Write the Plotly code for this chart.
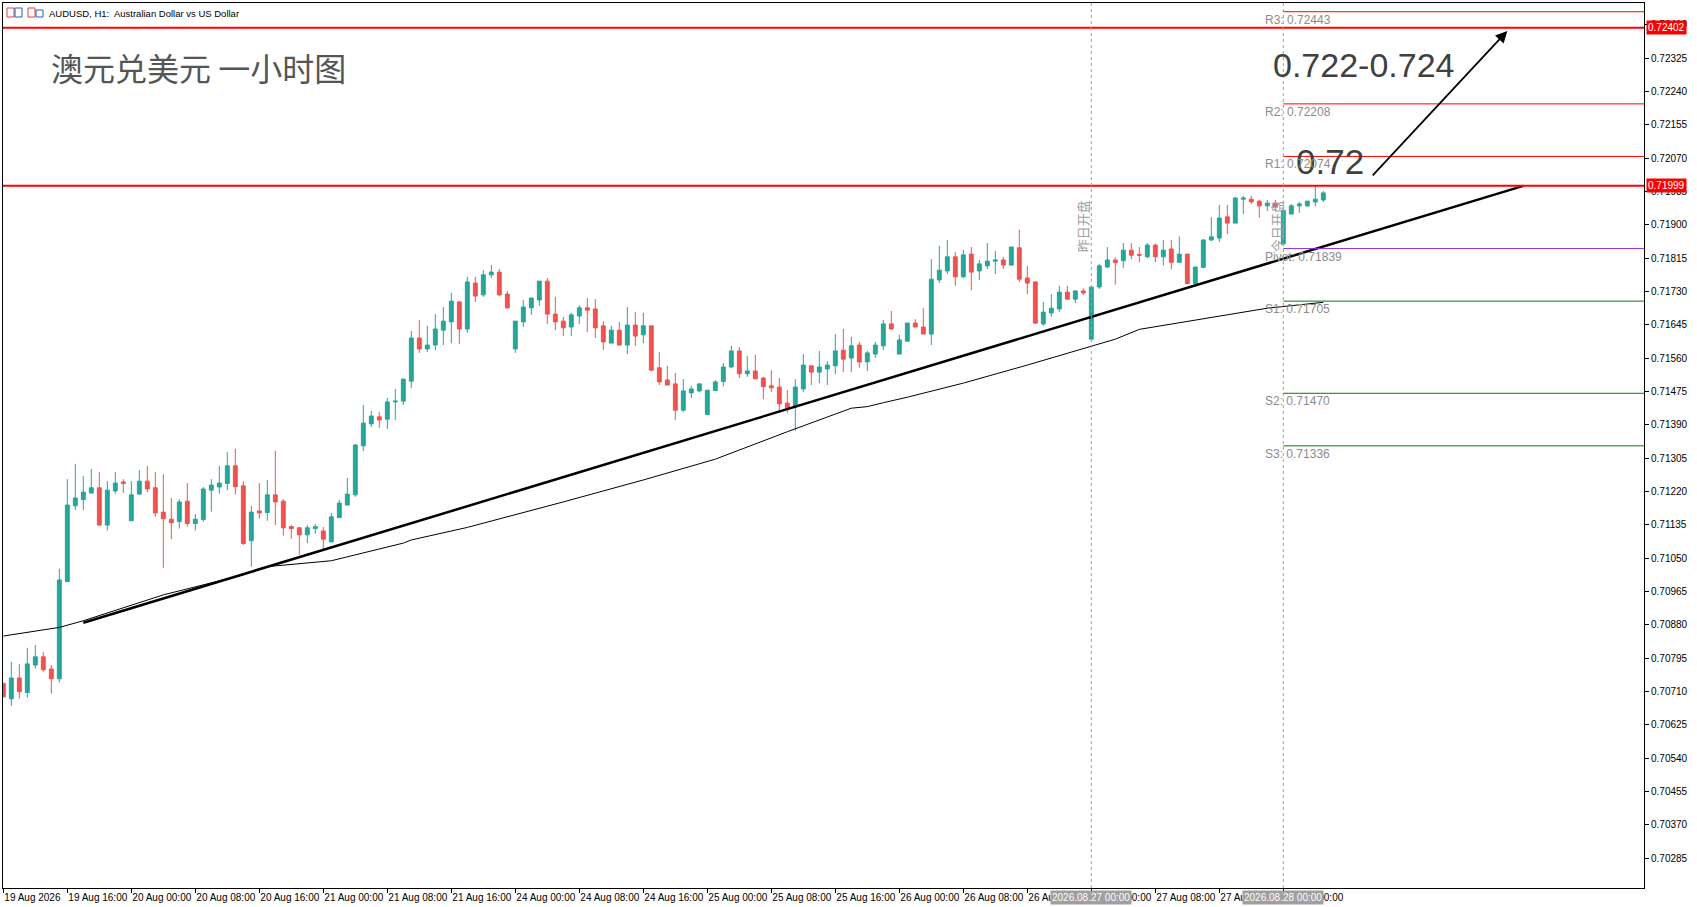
import plotly.graph_objects as go

# AUDUSD H1, bar 0 = 19 Aug 2026 08:00 (weekend hours skipped, one bar per hour)
opens = [0.70730, 0.70691, 0.70744, 0.70707, 0.70777, 0.70798, 0.70767, 0.70742, 0.70990, 0.71183,
         0.71199, 0.71216, 0.71229, 0.71134, 0.71221, 0.71244, 0.71145, 0.71213, 0.71246, 0.71229,
         0.71167, 0.71149, 0.71143, 0.71195, 0.71138, 0.71148, 0.71223, 0.71231, 0.71240, 0.71285,
         0.71234, 0.71094, 0.71170, 0.71166, 0.71211, 0.71195, 0.71130, 0.71127, 0.71109, 0.71125,
         0.71119, 0.71091, 0.71153, 0.71185, 0.71211, 0.71336, 0.71392, 0.71410, 0.71404, 0.71448,
         0.71450, 0.71501, 0.71611, 0.71583, 0.71593, 0.71631, 0.71652, 0.71703, 0.71634, 0.71751,
         0.71721, 0.71772, 0.71779, 0.71723, 0.71583, 0.71652, 0.71688, 0.71708, 0.71756, 0.71672,
         0.71654, 0.71639, 0.71667, 0.71688, 0.71685, 0.71642, 0.71598, 0.71631, 0.71593, 0.71644,
         0.71619, 0.71642, 0.71535, 0.71504, 0.71494, 0.71427, 0.71471, 0.71476, 0.71416, 0.71477,
         0.71500, 0.71537, 0.71578, 0.71520, 0.71527, 0.71509, 0.71489, 0.71486, 0.71445, 0.71435,
         0.71481, 0.71540, 0.71524, 0.71532, 0.71540, 0.71580, 0.71560, 0.71593, 0.71550, 0.71570,
         0.71591, 0.71647, 0.71570, 0.71603, 0.71649, 0.71639, 0.71621, 0.71759, 0.71782, 0.71818,
         0.71767, 0.71825, 0.71782, 0.71795, 0.71807, 0.71810, 0.71797, 0.71841, 0.71764, 0.71754,
         0.71647, 0.71675, 0.71685, 0.71728, 0.71710, 0.71731, 0.71608, 0.71741, 0.71792, 0.71810,
         0.71808, 0.71835, 0.71824, 0.71818, 0.71848, 0.71818, 0.71838, 0.71804, 0.71825, 0.71750,
         0.71791, 0.71861, 0.71866, 0.71920, 0.71904, 0.71965, 0.71965, 0.71960, 0.71948, 0.71955,
         0.71851, 0.71927, 0.71948, 0.71948, 0.71958, 0.71963]
highs = [0.70732, 0.70785, 0.70780, 0.70821, 0.70828, 0.70810, 0.70777, 0.71022, 0.71251, 0.71290,
         0.71259, 0.71277, 0.71269, 0.71246, 0.71269, 0.71251, 0.71246, 0.71274, 0.71285, 0.71269,
         0.71264, 0.71203, 0.71200, 0.71241, 0.71162, 0.71231, 0.71251, 0.71285, 0.71320, 0.71328,
         0.71246, 0.71183, 0.71241, 0.71249, 0.71323, 0.71200, 0.71134, 0.71129, 0.71134, 0.71137,
         0.71129, 0.71165, 0.71198, 0.71254, 0.71341, 0.71440, 0.71425, 0.71422, 0.71458, 0.71481,
         0.71508, 0.71629, 0.71657, 0.71642, 0.71672, 0.71690, 0.71726, 0.71705, 0.71767, 0.71767,
         0.71784, 0.71797, 0.71787, 0.71731, 0.71654, 0.71708, 0.71713, 0.71756, 0.71764, 0.71716,
         0.71665, 0.71675, 0.71695, 0.71713, 0.71710, 0.71654, 0.71642, 0.71652, 0.71690, 0.71677,
         0.71675, 0.71642, 0.71575, 0.71540, 0.71522, 0.71506, 0.71489, 0.71496, 0.71478, 0.71504,
         0.71547, 0.71591, 0.71588, 0.71565, 0.71568, 0.71512, 0.71529, 0.71509, 0.71478, 0.71506,
         0.71570, 0.71540, 0.71578, 0.71552, 0.71621, 0.71634, 0.71614, 0.71601, 0.71578, 0.71601,
         0.71657, 0.71680, 0.71619, 0.71649, 0.71659, 0.71687, 0.71812, 0.71846, 0.71861, 0.71830,
         0.71836, 0.71843, 0.71810, 0.71853, 0.71833, 0.71818, 0.71843, 0.71887, 0.71795, 0.71756,
         0.71703, 0.71723, 0.71744, 0.71744, 0.71733, 0.71738, 0.71741, 0.71800, 0.71843, 0.71817,
         0.71853, 0.71853, 0.71843, 0.71853, 0.71852, 0.71861, 0.71861, 0.71870, 0.71825, 0.71792,
         0.71863, 0.71919, 0.71950, 0.71950, 0.71971, 0.71973, 0.71973, 0.71963, 0.71963, 0.71963,
         0.71937, 0.71953, 0.71958, 0.71960, 0.71999, 0.71986]
lows = [0.70695, 0.70673, 0.70691, 0.70694, 0.70768, 0.70760, 0.70704, 0.70732, 0.70989, 0.71172,
        0.71172, 0.71214, 0.71132, 0.71120, 0.71214, 0.71216, 0.71145, 0.71211, 0.71218, 0.71155,
        0.71025, 0.71098, 0.71125, 0.71130, 0.71120, 0.71143, 0.71168, 0.71214, 0.71223, 0.71212,
        0.71083, 0.71028, 0.71150, 0.71145, 0.71134, 0.71107, 0.71099, 0.71058, 0.71088, 0.71112,
        0.71070, 0.71091, 0.71153, 0.71185, 0.71206, 0.71323, 0.71384, 0.71382, 0.71379, 0.71402,
        0.71440, 0.71484, 0.71573, 0.71575, 0.71580, 0.71593, 0.71598, 0.71596, 0.71624, 0.71703,
        0.71716, 0.71764, 0.71718, 0.71685, 0.71573, 0.71639, 0.71670, 0.71693, 0.71647, 0.71631,
        0.71616, 0.71616, 0.71647, 0.71626, 0.71611, 0.71580, 0.71598, 0.71591, 0.71570, 0.71591,
        0.71598, 0.71527, 0.71491, 0.71491, 0.71402, 0.71422, 0.71458, 0.71473, 0.71416, 0.71477,
        0.71487, 0.71535, 0.71509, 0.71512, 0.71506, 0.71455, 0.71473, 0.71422, 0.71420, 0.71374,
        0.71473, 0.71491, 0.71496, 0.71491, 0.71519, 0.71524, 0.71524, 0.71535, 0.71527, 0.71560,
        0.71580, 0.71631, 0.71570, 0.71603, 0.71639, 0.71621, 0.71593, 0.71751, 0.71774, 0.71744,
        0.71764, 0.71733, 0.71759, 0.71787, 0.71774, 0.71787, 0.71795, 0.71754, 0.71723, 0.71647,
        0.71642, 0.71665, 0.71677, 0.71710, 0.71700, 0.71721, 0.71608, 0.71736, 0.71789, 0.71747,
        0.71789, 0.71812, 0.71804, 0.71814, 0.71804, 0.71796, 0.71786, 0.71804, 0.71749, 0.71749,
        0.71791, 0.71858, 0.71856, 0.71876, 0.71904, 0.71927, 0.71953, 0.71918, 0.71935, 0.71935,
        0.71851, 0.71927, 0.71930, 0.71945, 0.71947, 0.71958]
closes = [0.70696, 0.70744, 0.70709, 0.70780, 0.70798, 0.70765, 0.70742, 0.70994, 0.71185, 0.71203,
          0.71218, 0.71229, 0.71134, 0.71223, 0.71241, 0.71240, 0.71211, 0.71246, 0.71226, 0.71165,
          0.71150, 0.71140, 0.71193, 0.71138, 0.71149, 0.71226, 0.71236, 0.71241, 0.71285, 0.71232,
          0.71087, 0.71167, 0.71165, 0.71211, 0.71193, 0.71127, 0.71125, 0.71109, 0.71127, 0.71130,
          0.71098, 0.71155, 0.71190, 0.71213, 0.71338, 0.71394, 0.71412, 0.71402, 0.71448, 0.71450,
          0.71506, 0.71611, 0.71583, 0.71593, 0.71634, 0.71654, 0.71705, 0.71634, 0.71754, 0.71718,
          0.71772, 0.71779, 0.71721, 0.71688, 0.71654, 0.71690, 0.71713, 0.71756, 0.71672, 0.71652,
          0.71637, 0.71670, 0.71688, 0.71682, 0.71637, 0.71601, 0.71631, 0.71593, 0.71644, 0.71616,
          0.71642, 0.71529, 0.71499, 0.71491, 0.71427, 0.71476, 0.71481, 0.71494, 0.71478, 0.71499,
          0.71537, 0.71578, 0.71520, 0.71527, 0.71507, 0.71487, 0.71484, 0.71443, 0.71433, 0.71486,
          0.71542, 0.71524, 0.71537, 0.71542, 0.71578, 0.71557, 0.71591, 0.71550, 0.71573, 0.71593,
          0.71647, 0.71634, 0.71606, 0.71649, 0.71639, 0.71621, 0.71761, 0.71784, 0.71818, 0.71767,
          0.71823, 0.71779, 0.71800, 0.71807, 0.71810, 0.71797, 0.71843, 0.71761, 0.71751, 0.71649,
          0.71677, 0.71687, 0.71728, 0.71710, 0.71731, 0.71726, 0.71741, 0.71795, 0.71810, 0.71803,
          0.71835, 0.71822, 0.71822, 0.71848, 0.71818, 0.71835, 0.71804, 0.71825, 0.71750, 0.71792,
          0.71861, 0.71869, 0.71917, 0.71904, 0.71968, 0.71968, 0.71958, 0.71948, 0.71955, 0.71945,
          0.71937, 0.71948, 0.71953, 0.71960, 0.71965, 0.71981]

# moving average read at a few bars
ma_bars = [0, 7, 10, 20, 30, 33, 41, 50, 51, 58, 70, 80, 89, 98, 106, 108, 110, 113, 120, 128, 139, 142, 158, 165]
ma_vals = [0.70851, 0.70873, 0.70890, 0.70956, 0.71007, 0.71028, 0.71043, 0.71088, 0.71096, 0.71128,
           0.71193, 0.71249, 0.71302, 0.71372, 0.71432, 0.71436, 0.71446, 0.71460, 0.71496, 0.71542,
           0.71608, 0.71633, 0.71687, 0.71702]

# hand drawn trend line and arrow (bar, price)
trend_bars = [10, 190]
trend_prices = [0.70885, 0.71999]
arrow_from = (171.0, 0.72022)
arrow_to = (188.0, 0.72394)

key_levels = [0.72402, 0.71999]

pivot_names = ["R3", "R2", "R1", "Pivot", "S1", "S2", "S3"]
pivot_vals = [0.72443, 0.72208, 0.72074, 0.71839, 0.71705, 0.71470, 0.71336]
pivot_cols = ["#ff0000", "#ff0000", "#ff0000", "#8a2be2", "#008000", "#008000", "#008000"]

day_open_bars = [136, 160]
day_open_tags = ["2026.08.27 00:00", "2026.08.28 00:00"]

tick_bars = list(range(0, 161, 8))
tick_labels = ["19 Aug 2026", "19 Aug 16:00", "20 Aug 00:00", "20 Aug 08:00", "20 Aug 16:00",
               "21 Aug 00:00", "21 Aug 08:00", "21 Aug 16:00", "24 Aug 00:00", "24 Aug 08:00",
               "24 Aug 16:00", "25 Aug 00:00", "25 Aug 08:00", "25 Aug 16:00", "26 Aug 00:00",
               "26 Aug 08:00", "26 Aug 16:00", "27 Aug 00:00", "27 Aug 08:00", "27 Aug 16:00",
               "28 Aug 00:00"]
price_ticks = [0.72410, 0.72325, 0.72240, 0.72155, 0.72070, 0.71985, 0.71900, 0.71815, 0.71730,
               0.71645, 0.71560, 0.71475, 0.71390, 0.71305, 0.71220, 0.71135, 0.71050, 0.70965,
               0.70880, 0.70795, 0.70710, 0.70625, 0.70540, 0.70455, 0.70370, 0.70285]

UP = "#26a69a"
DOWN = "#ef5350"
W, H = 1697, 907
ML, MR, MT, MB = 3, 53, 3, 19
PW, PH = W - ML - MR, H - MT - MB


def px(x):
    return (x - ML) / PW


def py(y):
    return (H - MB - y) / PH


fig = go.Figure()

fig.add_trace(go.Scatter(x=ma_bars, y=ma_vals, mode="lines",
                         line=dict(color="black", width=1), showlegend=False, hoverinfo="skip"))

fig.add_trace(go.Candlestick(x=list(range(len(opens))), open=opens, high=highs, low=lows, close=closes,
                             increasing=dict(line=dict(color=UP, width=1), fillcolor=UP),
                             decreasing=dict(line=dict(color=DOWN, width=1), fillcolor=DOWN),
                             whiskerwidth=0, showlegend=False))

fig.add_trace(go.Scatter(x=trend_bars, y=trend_prices, mode="lines",
                         line=dict(color="black", width=2.5), showlegend=False, hoverinfo="skip"))

shapes = []
for lv in key_levels:
    shapes.append(dict(type="line", xref="paper", yref="y", x0=0, x1=1, y0=lv, y1=lv,
                       line=dict(color="#ff0000", width=2)))
for b in day_open_bars:
    shapes.append(dict(type="line", xref="x", yref="paper", x0=b, x1=b, y0=0, y1=1,
                       line=dict(color="#a0a0a0", width=1, dash="3px,3px")))
for name, v, c in zip(pivot_names, pivot_vals, pivot_cols):
    shapes.append(dict(type="line", xref="x", yref="y", x0=day_open_bars[1], x1=206, y0=v, y1=v,
                       line=dict(color=c, width=1)))

# the two little MT5 icons in the corner
shapes += [
    dict(type="rect", xref="paper", yref="paper", x0=px(7), x1=px(14), y0=py(17), y1=py(8),
         line=dict(color="#e04040", width=1)),
    dict(type="rect", xref="paper", yref="paper", x0=px(15), x1=px(22), y0=py(17), y1=py(8),
         line=dict(color="#2060c0", width=1)),
    dict(type="rect", xref="paper", yref="paper", x0=px(28), x1=px(35), y0=py(17), y1=py(8),
         line=dict(color="#e04040", width=1)),
    dict(type="rect", xref="paper", yref="paper", x0=px(36), x1=px(43), y0=py(17), y1=py(10),
         line=dict(color="#2060c0", width=1)),
]

ann = []
ann.append(dict(xref="paper", yref="paper", x=px(47), y=py(13), xanchor="left", yanchor="middle",
                text="AUDUSD, H1:  Australian Dollar vs US Dollar", showarrow=False,
                font=dict(family="Liberation Sans", size=9.5, color="black")))
ann.append(dict(xref="x", yref="y", x=5.7, y=0.72302, xanchor="left", yanchor="middle",
                text="澳元兑美元 一小时图", showarrow=False,
                font=dict(family="Noto Sans CJK SC", size=32, color="#555555")))
ann.append(dict(xref="x", yref="y", x=158.5, y=0.72307, xanchor="left", yanchor="middle",
                text="0.722-0.724", showarrow=False,
                font=dict(family="Liberation Sans", size=34, color="#404040")))
ann.append(dict(xref="x", yref="y", x=161.3, y=0.72062, xanchor="left", yanchor="middle",
                text="0.72", showarrow=False,
                font=dict(family="Liberation Sans", size=35, color="#404040")))
ann.append(dict(xref="x", yref="y", x=arrow_to[0], y=arrow_to[1], ax=arrow_from[0], ay=arrow_from[1],
                axref="x", ayref="y", text="", showarrow=True, arrowhead=2, arrowsize=1.3,
                arrowwidth=1.8, arrowcolor="black"))
for name, v in zip(pivot_names, pivot_vals):
    ann.append(dict(xref="x", yref="y", x=157.5, y=v, xanchor="left", yanchor="top", yshift=1,
                    text="%s: %.5f" % (name, v), showarrow=False,
                    font=dict(family="Liberation Sans", size=12, color="#8c8c8c")))
for b, t, xb in zip(day_open_bars, ["昨日开盘", "今日开盘"], [134.85, 159.1]):
    ann.append(dict(xref="x", yref="y", x=xb, y=0.71896, textangle=-90, text=t, showarrow=False,
                    font=dict(family="Noto Sans CJK SC", size=13, color="#a0a0a0")))
for b, t in zip(day_open_bars, day_open_tags):
    ann.append(dict(xref="x", yref="paper", x=b, y=0, yanchor="top", yshift=-2, text=t,
                    showarrow=False, bgcolor="#a0a0a0", borderpad=1,
                    font=dict(family="Liberation Sans", size=10, color="white")))
for lv in key_levels:
    ann.append(dict(xref="paper", yref="y", x=1, y=lv, xanchor="left", xshift=2, text="%.5f" % lv,
                    showarrow=False, bgcolor="#ff0000", borderpad=1,
                    font=dict(family="Liberation Sans", size=10, color="white")))

fig.update_layout(
    width=W, height=H, autosize=False,
    margin=dict(l=ML, r=MR, t=MT, b=MB),
    paper_bgcolor="white", plot_bgcolor="white",
    shapes=shapes, annotations=ann,
    xaxis=dict(range=[-0.04, PW / 8.0 - 0.04], showgrid=False, zeroline=False,
               rangeslider=dict(visible=False),
               tickvals=tick_bars, ticktext=tick_labels, ticks="outside", ticklen=4,
               tickcolor="black", ticklabelposition="outside right", tickangle=0,
               tickfont=dict(family="Liberation Sans", size=10, color="black"),
               showline=True, mirror=True, linecolor="black", linewidth=1),
    yaxis=dict(range=[0.702085, 0.7246525], side="right", showgrid=False, zeroline=False,
               tickvals=price_ticks, tickformat=".5f", ticks="outside", ticklen=4,
               tickcolor="black", tickfont=dict(family="Liberation Sans", size=10, color="black"),
               showline=True, mirror=True, linecolor="black", linewidth=1),
    hovermode=False,
)

fig.write_html("out.html", config=dict(displayModeBar=False),
               post_script="document.body.style.margin='0px';document.body.style.overflow='hidden';")
